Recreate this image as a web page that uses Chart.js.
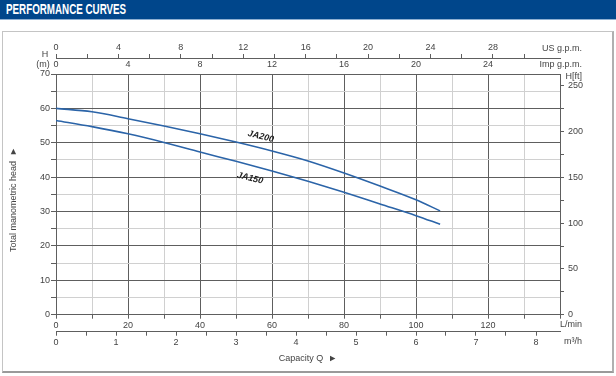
<!DOCTYPE html>
<html lang="en">
<head>
  <meta charset="UTF-8">
  <title>Performance curves</title>
  <style>
    body {
      margin: 0;
      width: 616px;
      height: 376px;
      position: relative;
      overflow: hidden;
      background: #fff;
      font-family: 'Liberation Sans', Arial, sans-serif;
    }

    #header {
      position: absolute;
      left: 0;
      top: 0;
      width: 616px;
      height: 19px;
      background: #00468b;
      border-bottom: 1px solid #8fb0d2;
    }

    #header span {
      display: inline-block;
      color: #fff;
      font-weight: bold;
      font-size: 14px;
      line-height: 19px;
      margin-left: 6px;
      transform: scaleX(0.7);
      transform-origin: left center;
      white-space: nowrap;
    }

    #frame {
      position: absolute;
      left: 2px;
      top: 31px;
      width: 609px;
      height: 339px;
      border: 1px solid #c4c4c4;
      border-bottom: 2px solid #9a9a9a;
      border-right: 2px solid #b0b0b0;
    }

    #chart {
      position: absolute;
      left: 0;
      top: 0;
    }
  </style>
</head>
<body>
  <div id="header"><span>PERFORMANCE CURVES</span></div>
  <div id="frame"></div>
  <canvas id="chart" width="616" height="376"></canvas>

  <script src="https://cdn.jsdelivr.net/npm/chart.js"></script>
  <script>
    // capacity in L/min, head in m
    const flowLpm   = [0, 10, 20, 30, 40, 50, 60, 70, 80, 90, 100, 106.7];
    const headJA200 = [60, 59.0, 57.0, 54.9, 52.6, 50.2, 47.6, 44.7, 41.2, 37.4, 33.4, 30.2];
    const headJA150 = [56.5, 54.7, 52.6, 50.1, 47.3, 44.6, 41.8, 38.8, 35.6, 32.2, 28.8, 26.3];

    const seriesNames = ['JA200', 'JA150'];
    // where the curve names sit, in L/min and m
    const nameSpots = [{ x: 56.9, y: 51.8 }, { x: 53.9, y: 39.7 }];

    const DARK = '#5e5e5e';
    const LIGHT = '#d0d0d0';
    const TXT = '#444';
    const LINE = '#2b64a8';
    const FAMILY = "'Liberation Sans', Arial, sans-serif";
    const tickFont = { family: FAMILY, size: 9 };

    const onStep = (v, step) => Math.abs(v / step - Math.round(v / step)) < 1e-6;
    const keepSteps = step => s => { s.ticks = s.ticks.filter(t => onStep(t.value, step)); };

    const extraText = {
      id: 'extraText',
      afterDraw(chart) {
        const ctx = chart.ctx;
        const xs = chart.scales.x, ys = chart.scales.y;
        ctx.save();
        ctx.fillStyle = TXT;
        ctx.font = '9px ' + FAMILY;
        ctx.textBaseline = 'middle';

        ctx.textAlign = 'center';
        ctx.fillText('H', 45, 55);
        ctx.fillText('(m)', 43, 64.5);

        ctx.textAlign = 'right';
        ctx.fillText('US g.p.m.', 582, 48.5);
        ctx.fillText('Imp g.p.m.', 582, 65);
        ctx.fillText('H[ft]', 582, 77);
        ctx.fillText('L/min', 582, 325);
        ctx.fillText('m³/h', 582, 342);

        // vertical axis title
        ctx.save();
        ctx.translate(14, 252);
        ctx.rotate(-Math.PI / 2);
        ctx.textAlign = 'left';
        ctx.fillText('Total manometric head  ►', 0, 0);
        ctx.restore();

        // curve names
        ctx.font = 'italic bold 9px ' + FAMILY;
        ctx.fillStyle = '#222';
        ctx.textAlign = 'center';
        seriesNames.forEach((name, i) => {
          ctx.save();
          ctx.translate(xs.getPixelForValue(nameSpots[i].x), ys.getPixelForValue(nameSpots[i].y));
          ctx.rotate(14 * Math.PI / 180);
          ctx.fillText(name, 0, 0);
          ctx.restore();
        });
        ctx.restore();
      }
    };

    new Chart(document.getElementById('chart'), {
      type: 'line',
      data: {
        datasets: [
          {
            label: seriesNames[0],
            data: flowLpm.map((q, i) => ({ x: q, y: headJA200[i] })),
            borderColor: LINE,
            borderWidth: 1.6,
            pointRadius: 0,
            cubicInterpolationMode: 'monotone',
            xAxisID: 'x',
            yAxisID: 'y'
          },
          {
            label: seriesNames[1],
            data: flowLpm.map((q, i) => ({ x: q, y: headJA150[i] })),
            borderColor: LINE,
            borderWidth: 1.6,
            pointRadius: 0,
            cubicInterpolationMode: 'monotone',
            xAxisID: 'x',
            yAxisID: 'y'
          }
        ]
      },
      options: {
        responsive: false,
        animation: false,
        layout: { padding: 0 },
        plugins: {
          legend: { display: false },
          tooltip: { enabled: false }
        },
        scales: {
          x: {
            type: 'linear', axis: 'x', position: 'bottom', weight: 0,
            min: 0, max: 140,
            ticks: {
              stepSize: 10, autoSkip: false, maxRotation: 0, padding: 1,
              font: tickFont, color: TXT,
              callback: v => (onStep(v, 20) && v < 140) ? v : ''
            },
            grid: {
              color: c => (c.tick && onStep(c.tick.value, 20)) ? DARK : LIGHT,
              tickColor: DARK, tickLength: 4
            },
            border: { color: DARK },
            afterFit: s => { s.height = 17; }
          },
          xm3: {
            type: 'linear', axis: 'x', position: 'bottom', weight: 1,
            min: 0, max: 8.4,
            afterBuildTicks: keepSteps(0.5),
            ticks: {
              stepSize: 0.5, autoSkip: false, maxRotation: 0, padding: 1,
              font: tickFont, color: TXT,
              callback: v => onStep(v, 1) ? v : ''
            },
            grid: { drawOnChartArea: false, color: DARK, tickLength: 4 },
            border: { color: DARK },
            title: {
              display: true, text: 'Capacity Q  ►',
              font: tickFont, color: TXT,
              padding: { top: 0, bottom: 12 }
            },
            afterFit: s => { s.height = 44.3; }
          },
          ximp: {
            type: 'linear', axis: 'x', position: 'top', weight: 0,
            min: 0, max: 28,
            ticks: {
              display: true, stepSize: 4, autoSkip: false, maxRotation: 0, padding: 4,
              font: tickFont, color: TXT,
              callback: v => v < 28 ? String(v) : ''
            },
            grid: { display: true, drawOnChartArea: false, drawTicks: false, color: 'rgba(0,0,0,0)' },
            border: { display: false },
            afterFit: s => { s.height = 16; }
          },
          xus: {
            type: 'linear', axis: 'x', position: 'top', weight: 1,
            min: 0, max: 32.3,
            afterBuildTicks: keepSteps(2),
            ticks: {
              stepSize: 2, autoSkip: false, maxRotation: 0, padding: 1,
              font: tickFont, color: TXT,
              callback: v => (onStep(v, 4) && v <= 28) ? v : ''
            },
            grid: { drawOnChartArea: false, color: DARK, tickLength: 4 },
            border: { color: DARK },
            afterFit: s => { s.height = 58; }
          },
          y: {
            type: 'linear', axis: 'y', position: 'left',
            min: 0, max: 70,
            ticks: {
              stepSize: 5, autoSkip: false, padding: 1,
              font: tickFont, color: TXT,
              callback: v => onStep(v, 10) ? v : ''
            },
            grid: {
              color: c => (c.tick && onStep(c.tick.value, 10)) ? DARK : LIGHT,
              tickColor: DARK, tickLength: 5
            },
            border: { color: DARK },
            afterFit: s => { s.width = 56; }
          },
          yft: {
            type: 'linear', axis: 'y', position: 'right',
            min: 0, max: 263,
            afterBuildTicks: keepSteps(25),
            ticks: {
              stepSize: 25, autoSkip: false, padding: 4,
              font: tickFont, color: TXT,
              callback: v => onStep(v, 50) ? v : ''
            },
            grid: { drawOnChartArea: false, color: DARK, tickLength: 4 },
            border: { color: DARK },
            afterFit: s => { s.width = 56; }
          }
        }
      },
      plugins: [extraText]
    });
  </script>
</body>
</html>
